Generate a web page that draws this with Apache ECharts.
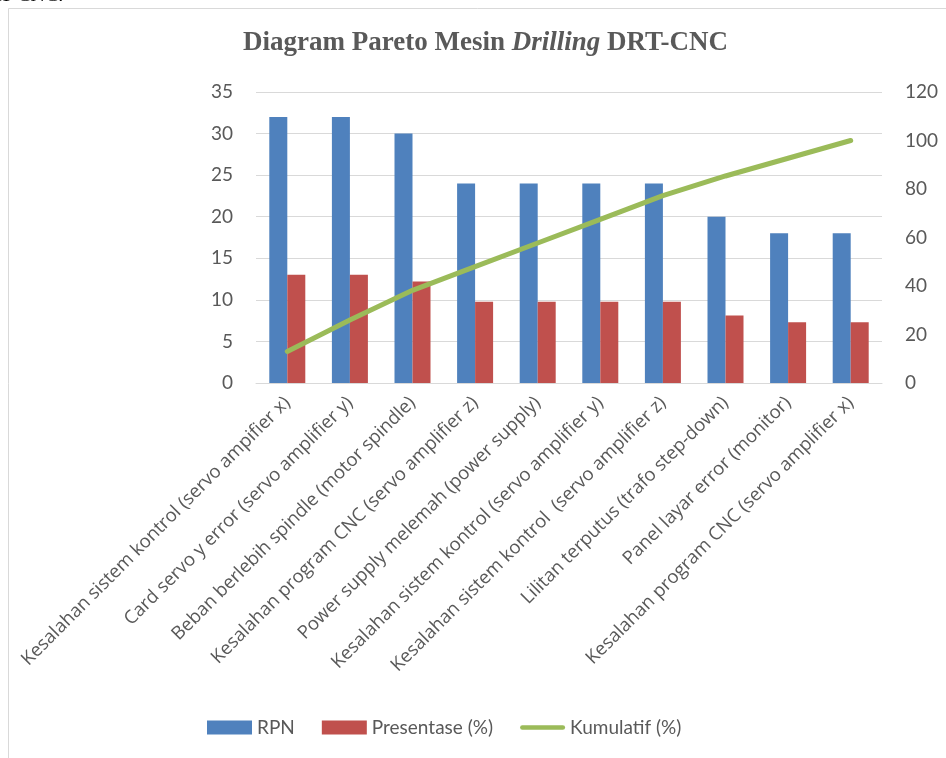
<!DOCTYPE html>
<html>
<head>
<meta charset="utf-8">
<script src="https://cdn.jsdelivr.net/npm/echarts@6/dist/echarts.min.js"></script>
<style>
html,body{margin:0;padding:0;background:#fff;}
#c{width:946px;height:758px;}
</style>
</head>
<body>
<div id="c"></div>
<script>
var categories = [
  'Kesalahan sistem kontrol (servo ampifier x)',
  'Card servo y error (servo amplifier y)',
  'Beban berlebih spindle (motor spindle)',
  'Kesalahan program CNC (servo amplifier z)',
  'Power supply melemah (power supply)',
  'Kesalahan sistem kontrol (servo amplifier y)',
  'Kesalahan sistem kontrol  (servo amplifier z)',
  'Lilitan terputus (trafo step-down)',
  'Panel layar error (monitor)',
  'Kesalahan program CNC (servo amplifier x)'
];
var rpn = [32, 32, 30, 24, 24, 24, 24, 20, 18, 18];
var presentase = [13.01, 13.01, 12.20, 9.76, 9.76, 9.76, 9.76, 8.13, 7.32, 7.32];
var kumulatif = [13.01, 26.02, 38.21, 47.97, 57.72, 67.48, 77.24, 85.37, 92.68, 100];
var leftTicks = {min: 0, max: 35, interval: 5};
var rightTicks = {min: 0, max: 120, interval: 20};

var textColor = '#595959';
var gridColor = '#d9d9d9';
var font = 'Lato, "Open Sans", sans-serif';
var catFont = '"Open Sans", sans-serif';

var chart = echarts.init(document.getElementById('c'), null, {renderer: 'canvas'});
chart.setOption({
  backgroundColor: '#ffffff',
  animation: false,
  graphic: [
    {type: 'rect', shape: {x: 8.5, y: 8.5, width: 1200, height: 1200},
     style: {fill: 'none', stroke: '#d9d9d9', lineWidth: 1}, z: -1},
    {type: 'text', left: -12, top: -14,
     style: {text: 'RT-CNC.', font: '20px "Liberation Serif", serif', fill: '#000'}}
  ],
  title: {
    left: 238, top: 25,
    text: '{b|Diagram Pareto Mesin }{i|Drilling}{b| DRT-CNC}',
    textStyle: {
      rich: {
        b: {fontFamily: '"Liberation Serif", serif', fontWeight: 'bold', fontSize: 27, color: textColor},
        i: {fontFamily: '"Liberation Serif", serif', fontWeight: 'bold', fontStyle: 'italic', fontSize: 27, color: textColor}
      }
    }
  },
  legend: {
    top: 713,
    left: 202,
    itemWidth: 45, itemHeight: 14, itemGap: 27,
    textStyle: {color: textColor, fontSize: 19, fontFamily: font},
    data: [
      {name: 'RPN', icon: 'rect'},
      {name: 'Presentase (%)', icon: 'rect'},
      {name: 'Kumulatif (%)', icon: 'path://M2,0 L47,0 A2,2 0 0 1 47,5 L2,5 A2,2 0 0 1 2,0 Z'}
    ]
  },
  grid: {left: 256, right: 64, top: 92, bottom: 375},
  xAxis: {
    type: 'category',
    data: categories,
    axisLine: {lineStyle: {color: gridColor, width: 1}},
    axisTick: {show: false},
    axisLabel: {rotate: 45, interval: 0, margin: 17, fontSize: 18.5, color: textColor, fontFamily: catFont}
  },
  yAxis: [
    {type: 'value', min: leftTicks.min, max: leftTicks.max, interval: leftTicks.interval,
     axisLine: {show: false}, axisTick: {show: false},
     splitLine: {lineStyle: {color: gridColor, width: 1}},
     axisLabel: {fontSize: 19, color: textColor, fontFamily: font, margin: 23}},
    {type: 'value', min: rightTicks.min, max: rightTicks.max, interval: rightTicks.interval,
     axisLine: {show: false}, axisTick: {show: false},
     splitLine: {show: false},
     axisLabel: {fontSize: 19, color: textColor, fontFamily: font, margin: 23}}
  ],
  series: [
    {name: 'RPN', type: 'bar', data: rpn, barWidth: 18, barGap: '0%',
     itemStyle: {color: '#4F81BD'}},
    {name: 'Presentase (%)', type: 'bar', data: presentase, barWidth: 18,
     itemStyle: {color: '#C0504D'}},
    {name: 'Kumulatif (%)', type: 'line', yAxisIndex: 1, data: kumulatif,
     symbol: 'none', smooth: false,
     lineStyle: {color: '#9BBB59', width: 5, cap: 'round', join: 'round'},
     itemStyle: {color: '#9BBB59'}}
  ]
});
</script>
</body>
</html>
